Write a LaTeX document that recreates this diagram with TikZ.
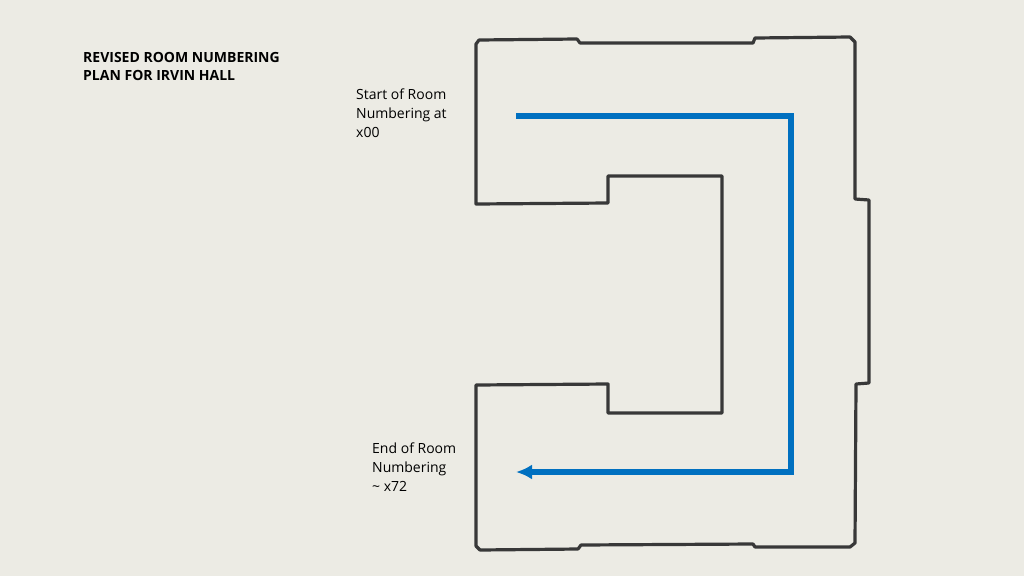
\documentclass[tikz,border=0pt]{standalone}
\usepackage{fontspec}
\setmainfont{Open Sans}
\usetikzlibrary{arrows.meta,positioning}
\definecolor{paper}{RGB}{236,235,228}
\definecolor{wall}{RGB}{56,56,56}
\definecolor{route}{RGB}{0,112,192}
\tikzset{
  note/.style={anchor=north west,align=left,font=\fontsize{14}{19}\selectfont,inner sep=0pt},
  walls/.style={wall,line width=3.2pt,line join=round},
  path/.style={route,line width=5.5pt,line cap=butt}
}

\begin{document}
\begin{tikzpicture}[x=1pt,y=-1pt]
\fill[paper] (0,0) rectangle (1024,576);
\useasboundingbox (0,0) rectangle (1024,576);

\node[note,font=\bfseries\fontsize{14}{18.5}\selectfont] (title) at (83,52) {REVISED ROOM NUMBERING\\PLAN FOR IRVIN HALL};
\node[note] (start) at (356,89) {Start of Room\\Numbering at\\x00};
\node[note] (end) at (372,443) {End of Room\\Numbering\\\textasciitilde\ x72};

% building outline
\draw[walls] (476,44) -- (479,40) -- (577,39) -- (580,43) -- (753,43) -- (755,38)
  -- (850,37) -- (855,42) -- (855,199) -- (869,200) -- (869,383) -- (856,384)
  -- (855,543) -- (850,547) -- (755,547) -- (753,544) -- (581,545) -- (578,549)
  -- (480,550) -- (476,546) -- (476,385) -- (608,384) -- (608,413) -- (722,413)
  -- (722,176) -- (608,176) -- (608,203) -- (476,204) -- cycle;

% numbering route
\coordinate (a) at (516,116);
\coordinate (b) at (791,116);
\coordinate (c) at (791,472);
\coordinate (d) at (516,472);
\draw[path,-{Latex[length=16pt,width=15pt]}] (a) -- (b) -- (c) -- (d);
\end{tikzpicture}
\end{document}
